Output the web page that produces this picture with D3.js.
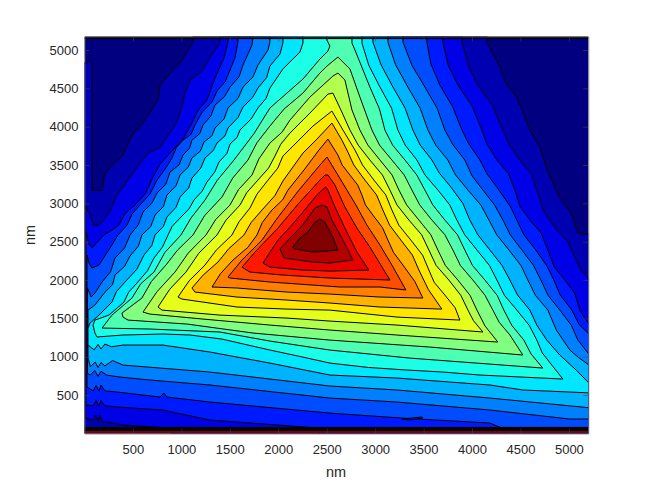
<!DOCTYPE html>
<html><head><meta charset="utf-8">
<script src="https://cdn.jsdelivr.net/npm/d3@7/dist/d3.min.js"></script>
<style>html,body{margin:0;padding:0;background:#fff}svg{display:block}</style>
</head><body><svg id="c" width="650" height="487"></svg>
<script>
const xTicks=[500,1000,1500,2000,2500,3000,3500,4000,4500,5000];
const yTicks=[500,1000,1500,2000,2500,3000,3500,4000,4500,5000];
const bandColors=["#000080","#0000b3","#0000e6","#001aff","#004dff","#0080ff","#00b3ff","#00e6ff","#1affe6","#4dffb3","#80ff80","#b3ff4d","#e6ff1a","#ffe600","#ffb300","#ff8000","#ff4d00","#ff1a00","#e60000","#b30000","#800000"];
// contour outlines in nm, flat x,y lists, lowest level first
const level20=[-15,4830,26,4830,46,4868,77,4830,77,3173,181,3173,212,3395,397,3630,501,3917,573,3995,759,4347,779,4543,882,4699,986,4830,1120,5103,1120,5260,4154,5260,4154,5103,4288,4777,4350,4560,4463,4386,4597,3956,4700,3734,4780,3420,4907,3069,5020,2880,5093,2613,5124,2600,5237,2600,5237,-87,-15,-87];
const level19=[10,201,10,2978,36,2887,57,2874,88,2717,139,2717,181,2756,265,2905,335,3108,425,3265,542,3473,655,3656,780,3730,851,3864,945,4040,1006,4256,1037,4438,1089,4608,1210,4720,1295,4908,1398,5090,1398,5260,3896,5260,3896,5103,3960,4800,4061,4543,4210,4280,4319,3956,4380,3780,4494,3565,4610,3390,4669,3173,4740,2900,4876,2651,4985,2510,5052,2326,5125,2130,5237,1974,5237,-87,903,-87,882,70,397,109,232,148,180,150,160,240,140,160,115,240,90,170];
const level18=[15,370,15,2626,46,2469,77,2417,201,2587,270,2640,356,2717,420,2870,521,2978,630,3130,707,3343,780,3510,882,3656,1015,3830,1109,4047,1175,4220,1264,4347,1347,4634,1440,4895,1481,5103,1481,5260,3699,5260,3699,5103,3755,4800,3854,4543,4000,4270,4102,3956,4150,3780,4257,3565,4375,3390,4443,3173,4495,2960,4597,2782,4715,2610,4783,2391,4845,2180,4958,2000,5060,1830,5113,1608,5160,1510,5237,1374,5237,-87,2430,-87,2410,70,1295,174,810,305,335,344,210,360,170,430,150,350,120,430,90,360];
const level17=[26,605,26,2326,46,2222,77,2156,150,2196,263,2417,346,2587,439,2717,490,2860,573,2978,675,3120,748,3303,845,3470,903,3591,950,3730,1017,3825,1100,3900,1140,4021,1215,4190,1316,4321,1370,4470,1450,4582,1553,4895,1584,5103,1584,5260,3534,5260,3534,5103,3575,4820,3668,4543,3800,4260,3896,3956,3965,3780,4082,3565,4155,3385,4278,3173,4395,2960,4463,2782,4535,2590,4659,2391,4775,2180,4845,2000,4910,1805,5031,1608,5105,1420,5237,1257,5237,-87,4391,-87,4308,70,4185,135,3277,200,2533,265,1295,409,851,474,820,527,779,474,335,540,210,555,170,630,150,550,120,625,90,555];
const level16=[31,783,31,1896,67,1778,108,1830,181,1974,270,2110,315,2287,415,2420,470,2587,555,2720,604,2887,695,3000,748,3134,840,3250,882,3408,975,3500,1017,3630,1085,3720,1109,3825,1190,3910,1223,4021,1305,4140,1347,4282,1445,4390,1502,4516,1595,4650,1636,4803,1729,5064,1749,5260,3287,5260,3287,5103,3380,4800,3514,4516,3640,4240,3720,3956,3800,3770,3926,3565,4000,3360,4113,3173,4235,2975,4319,2782,4395,2590,4515,2391,4635,2190,4711,2000,4785,1800,4907,1608,5025,1410,5093,1217,5237,983,5237,187,5010,187,4185,305,3225,409,2533,461,1295,631,676,696,366,735,230,760,170,810,140,745,105,820,60,760];
const level15=[36,983,36,1608,108,1674,212,1843,290,1940,315,2065,415,2180,470,2313,555,2440,593,2587,685,2700,728,2847,815,2960,851,3108,945,3230,986,3369,1070,3470,1109,3591,1195,3680,1233,3799,1315,3880,1347,3982,1440,4100,1481,4243,1585,4370,1636,4516,1740,4650,1790,4803,1894,4999,1914,5103,1914,5260,3132,5260,3132,5103,3210,4810,3338,4516,3465,4240,3545,3956,3625,3760,3751,3565,3830,3370,3958,3173,4090,2980,4175,2782,4255,2590,4381,2391,4505,2190,4577,2000,4655,1800,4783,1608,4870,1350,5010,1087,5100,990,5237,865,5237,331,4185,461,3225,566,2533,618,1295,800,397,891,290,950,210,880,170,925,140,860,110,930,60,870];
const level14=[36,1152,36,1374,57,1439,150,1543,284,1713,330,1850,418,1974,540,2140,614,2326,695,2450,728,2587,815,2700,851,2821,945,2950,986,3082,1075,3200,1109,3329,1200,3460,1244,3591,1330,3690,1367,3786,1450,3880,1481,3982,1585,4120,1636,4256,1735,4380,1790,4503,1880,4640,1914,4790,2018,4947,2048,5090,2048,5260,2977,5260,2977,5103,3060,4810,3184,4516,3310,4240,3390,3956,3465,3760,3586,3565,3665,3390,3782,3212,3905,3000,3978,2782,4060,2590,4185,2391,4310,2190,4391,2000,4470,1805,4597,1608,4670,1410,4772,1217,4906,1022,5080,820,5237,618,5237,527,4525,566,4185,631,3906,657,3225,722,2533,761,1914,917,1295,1061,810,1152,397,1152,280,1130,210,1165,170,1100,140,1160,100,1090];
const level13=[129,1257,108,1309,88,1413,108,1478,253,1543,408,1713,455,1840,542,1961,650,2120,717,2287,805,2430,862,2587,905,2700,986,2808,1080,2930,1130,3043,1215,3160,1264,3278,1345,3410,1388,3539,1470,3650,1502,3773,1575,3860,1605,3956,1720,4100,1790,4243,1875,4370,1914,4503,2048,4752,2224,4973,2255,5090,2255,5260,2864,5260,2864,5090,2935,4800,3050,4516,3170,4240,3235,3956,3310,3760,3431,3565,3515,3370,3648,3173,3770,2980,3844,2782,3925,2590,4051,2391,4180,2190,4257,2000,4335,1800,4463,1608,4590,1410,4669,1217,4725,1050,4824,891,4938,709,4082,761,3700,800,3328,826,2930,860,2533,917,2200,1010,1914,1087,1419,1230,1089,1283,810,1296,397,1283];
const level12=[181,1374,284,1543,490,1765,580,1950,717,2104,830,2360,996,2587,1100,2810,1244,3043,1370,3300,1543,3565,1750,3910,1914,4243,2255,4621,2430,4882,2513,4986,2533,5051,2503,5129,2503,5260,2761,5260,2761,5090,2792,4999,2946,4516,3045,4230,3101,3956,3180,3760,3308,3565,3430,3370,3514,3173,3595,2980,3720,2782,3850,2590,3926,2391,4005,2190,4133,2000,4260,1800,4329,1608,4410,1410,4535,1217,4610,1035,4731,852,3906,930,3359,982,2533,1087,1914,1204,1398,1322,676,1361];
const level11=[397,1517,387,1569,593,1765,690,1980,841,2196,960,2390,1120,2587,1240,2840,1419,3082,1530,3330,1687,3565,1780,3790,1914,4008,2060,4230,2255,4438,2430,4699,2503,4790,2616,4908,2740,4752,2843,4386,2967,3956,3045,3760,3173,3565,3300,3370,3380,3173,3460,2980,3586,2782,3720,2590,3803,2391,3880,2190,4009,2000,4135,1800,4215,1608,4280,1450,4391,1283,4525,1022,3565,1126,2533,1217,1739,1309,1058,1426,449,1478];
const level10=[604,1582,750,1850,934,2104,1070,2350,1254,2587,1355,2790,1502,2978,1590,3180,1729,3369,1800,3580,1914,3786,2040,3930,2121,4086,2327,4386,2564,4660,2616,4699,2688,4608,2761,4217,2843,3956,2925,3760,3050,3565,3175,3370,3246,3173,3325,2980,3452,2782,3575,2590,3648,2391,3725,2190,3854,2000,3980,1800,4051,1608,4135,1400,4267,1191,3225,1283,2533,1348,1914,1413,1223,1491,676,1556];
const level09=[759,1648,880,1880,1047,2104,1180,2350,1367,2587,1460,2780,1605,2978,1675,3140,1790,3303,1900,3460,1966,3617,2025,3770,2121,3917,2327,4177,2513,4425,2564,4438,2647,4217,2740,3956,2825,3760,2946,3565,3075,3370,3153,3173,3225,2980,3349,2782,3480,2590,3555,2391,3630,2190,3761,2000,3885,1800,3958,1608,4015,1470,4113,1322,3225,1413,2533,1465,2090,1504,1398,1543,800,1608];
const level08=[965,1778,1080,1990,1244,2196,1360,2390,1522,2587,1595,2760,1708,2939,1780,3120,1894,3303,1995,3460,2048,3617,2152,3747,2358,4008,2554,4204,2668,3956,2792,3695,2870,3500,2988,3303,3110,3110,3173,2913,3245,2715,3369,2521,3490,2325,3555,2130,3610,1970,3720,1804,3825,1640,3875,1478,3225,1517,2533,1608,2090,1621,1574,1648,1006,1752];
const level07=[1109,1896,1225,2065,1378,2235,1490,2410,1646,2587,1720,2750,1832,2913,1965,3100,2048,3291,2255,3656,2399,3838,2554,4047,2657,3825,2709,3695,2780,3500,2895,3303,3015,3110,3080,2913,3150,2715,3266,2521,3385,2325,3452,2130,3550,1875,3689,1621,3050,1648,2533,1700,2090,1739,1574,1778,1140,1843];
const level06=[1316,1909,1405,2085,1533,2261,1685,2425,1780,2587,1835,2750,1935,2913,2045,3045,2100,3173,2265,3434,2420,3695,2513,3838,2616,3630,2660,3500,2740,3369,2820,3240,2864,3108,2900,2980,2977,2847,3075,2685,3132,2521,3190,2360,3287,2196,3410,1980,3493,1765,3050,1778,2533,1817,2090,1843,1574,1896];
const level05=[1481,2039,1625,2261,1832,2521,1976,2782,2110,3004,2214,3173,2317,3329,2430,3499,2503,3604,2616,3369,2709,3173,2802,2978,2915,2717,3050,2456,3173,2196,3318,1870,3050,1909,2637,1909,1914,1974,1502,2026];
const level04=[1625,2169,1760,2365,1997,2678,2214,3004,2337,3173,2430,3303,2482,3369,2513,3369,2585,3239,2688,2952,2812,2678,2946,2430,3153,2000,2533,2026,2048,2065,1708,2104];
const level03=[1842,2222,1997,2521,2121,2691,2255,2887,2399,3108,2461,3186,2492,3212,2513,3173,2585,2952,2688,2678,2812,2365,2936,2130,2533,2117,2255,2130,1914,2169];
const level02=[2018,2404,2121,2548,2224,2678,2306,2808,2379,2939,2451,2978,2503,2952,2554,2782,2657,2548,2771,2261,2533,2222,2358,2235,2059,2287];
const level01=[2150,2430,2225,2550,2305,2625,2380,2755,2430,2795,2480,2755,2565,2560,2615,2390,2360,2365,2170,2405];
const levels=[level20,level19,level18,level17,level16,level15,level14,level13,level12,level11,level10,level09,level08,level07,level06,level05,level04,level03,level02,level01];
const islandOutline=[3277,188,3380,201,3483,214,3493,201,3359,174];
const islandBand=3;
// edge rows of the map, in nm
const bottomRedRow=[0,31];
const bottomBlackRow=[31,85];
const topBlackRow=[5142,5176];

const svg=d3.select("#c");
const L=84.5,R=588.25,T=36.5,B=433.4;
const x=d3.scaleLinear().domain([0,5200]).range([L,R]);
const y=d3.scaleLinear().domain([0,5176]).range([B,T]);
const chunk=a=>d3.range(0,a.length,2).map(i=>[a[i],a[i+1]]);
const line=d3.line().x(d=>x(d[0])).y(d=>y(d[1])).curve(d3.curveLinear);
svg.append("defs").append("clipPath").attr("id","plot").append("rect")
 .attr("x",L).attr("y",T).attr("width",R-L).attr("height",B-T);
const g=svg.append("g").attr("clip-path","url(#plot)");
g.append("rect").attr("x",L).attr("y",T).attr("width",R-L).attr("height",B-T).attr("fill",bandColors[0]);
g.selectAll("path.lv").data(levels).join("path").attr("class","lv")
 .attr("d",d=>line(chunk(d))+"Z").attr("fill",(d,i)=>bandColors[i+1])
 .attr("stroke","#000").attr("stroke-width",1).attr("stroke-linejoin","round");
g.append("path").attr("d",line(chunk(islandOutline))+"Z").attr("fill",bandColors[islandBand])
 .attr("stroke","#000").attr("stroke-width",1);
const rows=[[bottomRedRow,"#800000"],[bottomBlackRow,"#000"],[topBlackRow,"#000"]];
g.selectAll("rect.row").data(rows).join("rect").attr("class","row")
 .attr("x",L).attr("width",R-L).attr("y",d=>y(d[0][1])).attr("height",d=>y(d[0][0])-y(d[0][1])).attr("fill",d=>d[1]);

const fmt=d3.format("d");
const styleAxis=s=>{s.selectAll("path.domain").attr("stroke","#555").attr("stroke-width",0.8);
 s.selectAll(".tick line").attr("stroke","#444").attr("stroke-width",0.6);
 s.selectAll("text").attr("font-family","'Liberation Sans',Arial,sans-serif").attr("font-size",13).attr("fill","#262626");};
const ax=svg.append("g");
ax.append("g").attr("transform",`translate(0,${B})`).call(d3.axisBottom(x).tickValues(xTicks).tickFormat(fmt).tickSizeInner(-5).tickSizeOuter(0).tickPadding(11)).call(styleAxis);
ax.append("g").attr("transform",`translate(0,${T})`).call(d3.axisTop(x).tickValues(xTicks).tickFormat("").tickSizeInner(-5).tickSizeOuter(0)).call(styleAxis);
ax.append("g").attr("transform",`translate(${L},0)`).call(d3.axisLeft(y).tickValues(yTicks).tickFormat(fmt).tickSizeInner(-5).tickSizeOuter(0).tickPadding(6)).call(styleAxis);
ax.append("g").attr("transform",`translate(${R},0)`).call(d3.axisRight(y).tickValues(yTicks).tickFormat("").tickSizeInner(-5).tickSizeOuter(0)).call(styleAxis);
const lab=(t,px,py,rot)=>svg.append("text").text(t).attr("text-anchor","middle")
 .attr("font-family","'Liberation Sans',Arial,sans-serif").attr("font-size",14.5).attr("fill","#262626")
 .attr("transform",`translate(${px},${py})${rot?" rotate(-90)":""}`);
lab("nm",336,477,false);
lab("nm",35,235,true);
</script></body></html>
